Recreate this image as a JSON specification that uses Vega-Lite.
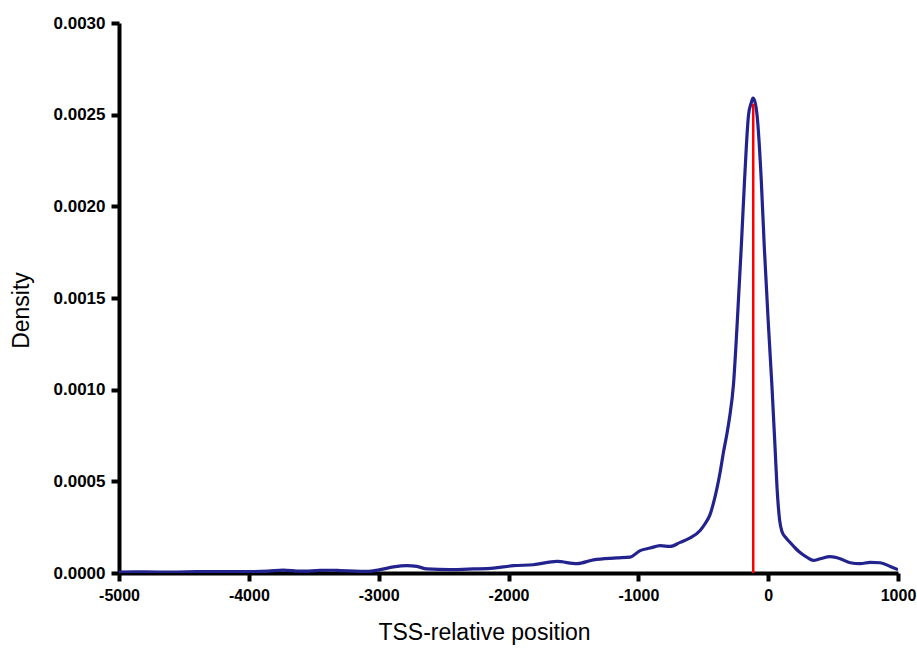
{
  "$schema": "https://vega.github.io/schema/vega-lite/v6.json",
  "width": 779,
  "height": 550,
  "autosize": "none",
  "padding": {"left": 119, "top": 23, "right": 19, "bottom": 75},
  "background": "white",
  "config": {
    "view": {"stroke": null},
    "axis": {
      "grid": false,
      "domainColor": "black",
      "domainWidth": 4,
      "tickColor": "black",
      "tickWidth": 4,
      "tickSize": 8,
      "labelFont": "Liberation Sans",
      "labelFontWeight": "bold",
      "labelColor": "black",
      "labelFlush": false,
      "titleFont": "Liberation Sans",
      "titleFontWeight": "normal",
      "titleColor": "black",
      "titleFontSize": 23
    }
  },
  "datasets": {
    "curve": [
      {"pos": -5000, "density": 0.000005},
      {"pos": -4800, "density": 0.000006},
      {"pos": -4600, "density": 0.000005},
      {"pos": -4400, "density": 0.000007},
      {"pos": -4200, "density": 0.000008},
      {"pos": -4000, "density": 0.000007},
      {"pos": -3850, "density": 0.000010},
      {"pos": -3737, "density": 0.000016},
      {"pos": -3600, "density": 0.000010},
      {"pos": -3450, "density": 0.000014},
      {"pos": -3350, "density": 0.000015},
      {"pos": -3297, "density": 0.000013},
      {"pos": -3092, "density": 0.000009},
      {"pos": -2989, "density": 0.000018},
      {"pos": -2886, "density": 0.000033},
      {"pos": -2783, "density": 0.000040},
      {"pos": -2706, "density": 0.000036},
      {"pos": -2629, "density": 0.000022},
      {"pos": -2450, "density": 0.000018},
      {"pos": -2270, "density": 0.000022},
      {"pos": -2116, "density": 0.000027},
      {"pos": -1962, "density": 0.000040},
      {"pos": -1808, "density": 0.000045},
      {"pos": -1627, "density": 0.000063},
      {"pos": -1473, "density": 0.000051},
      {"pos": -1345, "density": 0.000072},
      {"pos": -1165, "density": 0.000082},
      {"pos": -1063, "density": 0.000087},
      {"pos": -986, "density": 0.000122},
      {"pos": -909, "density": 0.000136},
      {"pos": -832, "density": 0.000149},
      {"pos": -755, "density": 0.000145},
      {"pos": -678, "density": 0.000167},
      {"pos": -601, "density": 0.000191},
      {"pos": -524, "density": 0.000232},
      {"pos": -485, "density": 0.000270},
      {"pos": -447, "density": 0.000320},
      {"pos": -420, "density": 0.000385},
      {"pos": -395, "density": 0.000460},
      {"pos": -370, "density": 0.000550},
      {"pos": -344, "density": 0.000660},
      {"pos": -320, "density": 0.000750},
      {"pos": -298, "density": 0.000845},
      {"pos": -267, "density": 0.001030},
      {"pos": -241, "density": 0.001330},
      {"pos": -207, "density": 0.001780},
      {"pos": -182, "density": 0.002140},
      {"pos": -151, "density": 0.002500},
      {"pos": -130, "density": 0.002565},
      {"pos": -117, "density": 0.002590},
      {"pos": -100, "density": 0.002565},
      {"pos": -86, "density": 0.002500},
      {"pos": -53, "density": 0.002140},
      {"pos": -30, "density": 0.001780},
      {"pos": 3, "density": 0.001340},
      {"pos": 29, "density": 0.001020},
      {"pos": 55, "density": 0.000656},
      {"pos": 68, "density": 0.000470},
      {"pos": 88, "density": 0.000290},
      {"pos": 106, "density": 0.000227},
      {"pos": 140, "density": 0.000190},
      {"pos": 171, "density": 0.000165},
      {"pos": 210, "density": 0.000135},
      {"pos": 248, "density": 0.000110},
      {"pos": 300, "density": 0.000085},
      {"pos": 348, "density": 0.000069},
      {"pos": 401, "density": 0.000078},
      {"pos": 478, "density": 0.000089},
      {"pos": 555, "density": 0.000078},
      {"pos": 632, "density": 0.000056},
      {"pos": 709, "density": 0.000051},
      {"pos": 786, "density": 0.000058},
      {"pos": 863, "density": 0.000056},
      {"pos": 940, "density": 0.000036},
      {"pos": 1000, "density": 0.000018}
    ],
    "marker": [
      {"pos": -115, "lo": 0, "hi": 0.00256}
    ]
  },
  "layer": [
    {
      "data": {"name": "curve"},
      "mark": {"type": "line", "color": "#23238e", "strokeWidth": 3.2, "interpolate": "monotone", "clip": true},
      "encoding": {
        "x": {
          "field": "pos", "type": "quantitative",
          "scale": {"domain": [-5000, 1000], "nice": false, "zero": false},
          "axis": {
            "title": "TSS-relative position",
            "values": [-5000, -4000, -3000, -2000, -1000, 0, 1000],
            "labelExpr": "'' + datum.value",
            "labelFontSize": 16,
            "labelPadding": 6,
            "titlePadding": 18,
            "titleX": 365,
            "titleAlign": "center"
          }
        },
        "y": {
          "field": "density", "type": "quantitative",
          "scale": {"domain": [0, 0.003], "nice": false},
          "axis": {
            "title": "Density",
            "values": [0, 0.0005, 0.001, 0.0015, 0.002, 0.0025, 0.003],
            "format": ".4f",
            "labelFontSize": 17,
            "labelPadding": 6,
            "titlePadding": 20,
            "titleY": 287,
            "titleAlign": "center"
          }
        }
      }
    },
    {
      "data": {"name": "marker"},
      "mark": {"type": "rule", "color": "#ff0000", "strokeWidth": 2.5},
      "encoding": {
        "x": {"field": "pos", "type": "quantitative"},
        "y": {"field": "lo", "type": "quantitative"},
        "y2": {"field": "hi"}
      }
    }
  ]
}
